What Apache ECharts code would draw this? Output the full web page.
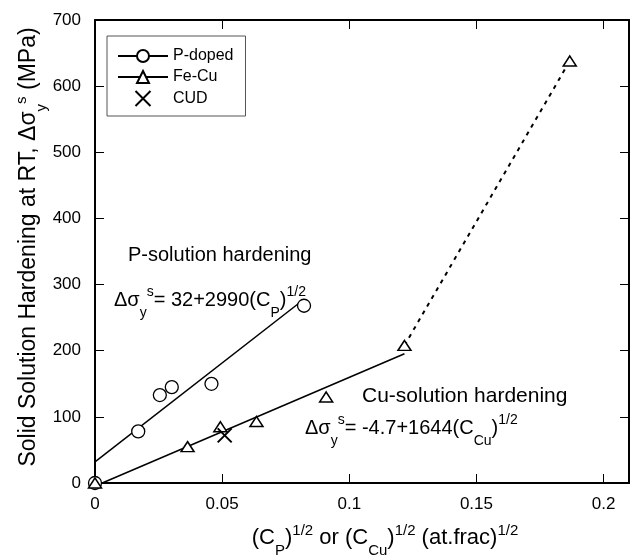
<!DOCTYPE html>
<html>
<head>
<meta charset="utf-8">
<script src="https://cdn.jsdelivr.net/npm/echarts@6/dist/echarts.min.js"></script>
<style>
  html, body { margin: 0; padding: 0; background: #fff; }
  #chart { width: 630px; height: 555px; }
</style>
</head>
<body>
<div id="chart"></div>
<script>
// Measured solid-solution hardening vs. square root of solute content
const pDopedX = [0, 0.0170, 0.0255, 0.0302, 0.0458, 0.0822];
const pDopedY = [0, 78, 133, 145, 150, 268];
const feCuX = [0, 0.0364, 0.0493, 0.0635, 0.0909, 0.1217, 0.1867];
const feCuY = [0, 55, 85, 93, 130, 208, 638];
const cudX = [0.051];
const cudY = [72];

// Linear fits: Δσ = a + b·(C)^1/2, drawn over the range [from, to]
const pFit = { a: 32, b: 2990, from: 0, to: 0.0822 };
const cuFit = { a: -4.7, b: 1644, from: 0.00286, to: 0.1217 };

// Axis ticks
const xTicks = [0, 0.05, 0.1, 0.15, 0.2];
const xTickLabels = ['0', '0.05', '0.1', '0.15', '0.2'];
const yTicks = [0, 100, 200, 300, 400, 500, 600, 700];

const FONT = '"Liberation Sans", Arial, Helvetica, sans-serif';

const pairs = (xs, ys) => xs.map((x, i) => [x, ys[i]]);
const fitLine = f => [[f.from, f.a + f.b * f.from], [f.to, f.a + f.b * f.to]];
// Dotted continuation between the last two Fe-Cu points
const feCuTail = pairs(feCuX.slice(-2), feCuY.slice(-2));

// Rich text styles for sub/superscripts (echarts textStyle flavour)
function richAxis(size, small) {
  return {
    m:   { fontSize: size, fontFamily: FONT, color: '#000', lineHeight: 40, verticalAlign: 'middle' },
    sub: { fontSize: small, fontFamily: FONT, color: '#000', lineHeight: 12, verticalAlign: 'bottom' },
    sup: { fontSize: small, fontFamily: FONT, color: '#000', lineHeight: 16, verticalAlign: 'top', padding: [5, 0, 0, 0] }
  };
}
// Same for zrender graphic text
function richGraphic(size, small) {
  return {
    m:   { fontSize: size, fontFamily: FONT, fill: '#000', lineHeight: 40, verticalAlign: 'middle' },
    sub: { fontSize: small, fontFamily: FONT, fill: '#000', lineHeight: 12, verticalAlign: 'bottom' },
    sup: { fontSize: small, fontFamily: FONT, fill: '#000', lineHeight: 16, verticalAlign: 'top', padding: [5, 0, 0, 0] }
  };
}

const xLabelFmt = v => {
  const i = xTicks.findIndex(t => Math.abs(t - v) < 1e-9);
  return i >= 0 ? xTickLabels[i] : '';
};

const frameLine = { show: true, onZero: false, lineStyle: { color: '#000', width: 2 } };
const tickIn = vals => ({ show: true, inside: true, length: 9, customValues: vals, lineStyle: { color: '#000', width: 1 } });

const chart = echarts.init(document.getElementById('chart'), null, { renderer: 'canvas' });

chart.setOption({
  animation: false,
  backgroundColor: '#fff',
  textStyle: { fontFamily: FONT, color: '#000' },
  grid: { left: 95, right: 1, top: 20, bottom: 72, containLabel: false, outerBoundsMode: 'none' },
  legend: {
    data: ['P-doped', 'Fe-Cu', 'CUD'],
    orient: 'vertical',
    left: 107,
    top: 36,
    padding: [12, 12, 9, 10],
    itemGap: 5,
    itemWidth: 50,
    itemHeight: 15,
    borderColor: '#555',
    borderWidth: 1,
    backgroundColor: '#fff',
    textStyle: { fontSize: 16, color: '#000', fontFamily: FONT },
    selectedMode: false
  },
  xAxis: [
    {
      type: 'value', position: 'bottom', min: 0, max: 0.21, interval: 0.05,
      axisLine: frameLine,
      axisTick: tickIn(xTicks),
      axisLabel: { customValues: xTicks, formatter: xLabelFmt, fontSize: 17, color: '#000', margin: 13, fontFamily: FONT },
      splitLine: { show: false },
      name: '{m|(C}{sub|P}{m|)}{sup|1/2}{m| or (C}{sub|Cu}{m|)}{sup|1/2}{m| (at.frac)}{sup|1/2}',
      nameLocation: 'middle',
      nameGap: 35,
      nameMoveOverlap: false,
      nameTextStyle: { rich: richAxis(22, 15), padding: [0, 0, 0, 46] }
    },
    {
      type: 'value', position: 'top', min: 0, max: 0.21, interval: 0.05,
      axisLine: frameLine,
      axisTick: tickIn(xTicks),
      axisLabel: { show: false },
      splitLine: { show: false }
    }
  ],
  yAxis: [
    {
      type: 'value', position: 'left', min: 0, max: 700, interval: 100,
      axisLine: frameLine,
      axisTick: tickIn(yTicks),
      axisLabel: { customValues: yTicks, fontSize: 17, color: '#000', margin: 14, fontFamily: FONT },
      splitLine: { show: false },
      name: '{m|Solid Solution Hardening at RT, Δσ}{sub|y}{sup|s}{m| (MPa)}',
      nameLocation: 'middle',
      nameRotate: 90,
      nameGap: 46,
      nameMoveOverlap: false,
      nameTextStyle: { rich: richAxis(23, 15), padding: [0, 0, 0, 9] }
    },
    {
      type: 'value', position: 'right', min: 0, max: 700, interval: 100,
      axisLine: frameLine,
      axisTick: tickIn(yTicks),
      axisLabel: { show: false },
      splitLine: { show: false }
    }
  ],
  series: [
    {
      name: 'P-doped', type: 'line', data: fitLine(pFit),
      symbol: 'emptyCircle', showSymbol: false, silent: true,
      itemStyle: { color: '#000' },
      lineStyle: { color: '#000', width: 1.5 }, z: 2
    },
    {
      name: 'Fe-Cu', type: 'line', data: fitLine(cuFit),
      symbol: 'emptyTriangle', showSymbol: false, silent: true,
      itemStyle: { color: '#000' },
      lineStyle: { color: '#000', width: 1.5 }, z: 2
    },
    {
      name: 'Fe-Cu trend', type: 'line', data: feCuTail,
      symbol: 'none', silent: true,
      lineStyle: { color: '#000', width: 2, type: [4, 5] }, z: 2
    },
    {
      name: 'P-doped', type: 'scatter', data: pairs(pDopedX, pDopedY),
      symbol: 'circle', symbolSize: 13,
      itemStyle: { color: '#fff', borderColor: '#000', borderWidth: 1.3, opacity: 1 }, z: 3
    },
    {
      name: 'Fe-Cu', type: 'scatter', data: pairs(feCuX, feCuY),
      symbol: 'triangle', symbolSize: [13, 10],
      itemStyle: { color: '#fff', borderColor: '#000', borderWidth: 1.5, opacity: 1 }, z: 4
    },
    {
      name: 'CUD', type: 'scatter', data: pairs(cudX, cudY),
      symbol: 'path://M0,0L10,10M10,0L0,10', symbolSize: 14,
      itemStyle: { color: 'rgba(0,0,0,0)', borderColor: '#000', borderWidth: 2, opacity: 1 }, z: 5
    }
  ],
  graphic: [
    {
      type: 'text', x: 128, y: 255, silent: true,
      style: { text: 'P-solution hardening', fontSize: 20, fontFamily: FONT, fill: '#000', verticalAlign: 'middle' }
    },
    {
      type: 'text', x: 114, y: 300, silent: true,
      style: {
        text: '{m|Δσ}{sub|y}{sup|s}{m|= 32+2990(C}{sub|P}{m|)}{sup|1/2}',
        rich: richGraphic(20, 14), verticalAlign: 'middle'
      }
    },
    {
      type: 'text', x: 362, y: 396, silent: true,
      style: { text: 'Cu-solution hardening', fontSize: 21, fontFamily: FONT, fill: '#000', verticalAlign: 'middle' }
    },
    {
      type: 'text', x: 305, y: 428, silent: true,
      style: {
        text: '{m|Δσ}{sub|y}{sup|s}{m|= -4.7+1644(C}{sub|Cu}{m|)}{sup|1/2}',
        rich: richGraphic(20, 14), verticalAlign: 'middle'
      }
    }
  ]
});
</script>
</body>
</html>
